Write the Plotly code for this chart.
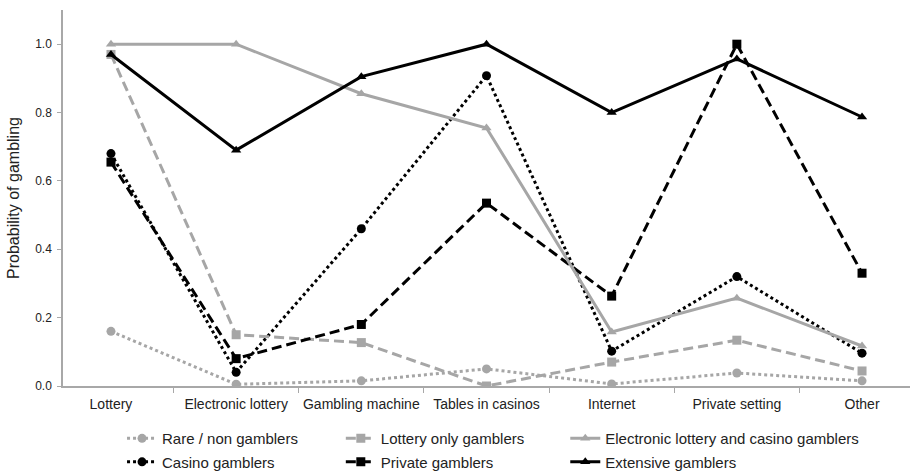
import plotly.graph_objects as go

categories = ["Lottery", "Electronic lottery", "Gambling machine", "Tables in casinos",
              "Internet", "Private setting", "Other"]

rare_non = [0.16, 0.005, 0.015, 0.05, 0.006, 0.038, 0.015]
lottery_only = [0.97, 0.15, 0.127, 0.0, 0.07, 0.134, 0.044]
elec_casino = [1.0, 1.0, 0.855, 0.755, 0.158, 0.257, 0.117]
casino = [0.68, 0.04, 0.46, 0.908, 0.102, 0.32, 0.096]
private = [0.655, 0.08, 0.18, 0.535, 0.263, 1.0, 0.33]
extensive = [0.97, 0.69, 0.905, 1.0, 0.80, 0.957, 0.787]

GRAY = "#a6a6a6"
BLACK = "#000000"
DASH = "10px,5px"

series = [
    ("Rare / non gamblers", rare_non, GRAY, "dot", "circle", "legend"),
    ("Casino gamblers", casino, BLACK, "dot", "circle", "legend"),
    ("Lottery only gamblers", lottery_only, GRAY, DASH, "square", "legend2"),
    ("Private gamblers", private, BLACK, DASH, "square", "legend2"),
    ("Electronic lottery and casino gamblers", elec_casino, GRAY, "solid", "triangle-up", "legend3"),
    ("Extensive gamblers", extensive, BLACK, "solid", "triangle-up", "legend3"),
]

fig = go.Figure()
for i, (name, vals, col, dash, sym, leg) in enumerate(series):
    fig.add_trace(go.Scatter(
        x=categories, y=vals, name=name, mode="lines+markers",
        line=dict(color=col, width=3, dash=dash),
        marker=dict(color=col, symbol=sym, size=9),
        legend=leg, legendgroup="g%d" % i,
    ))

FAM = "Liberation Sans, Arial, sans-serif"
legbase = dict(orientation="v", yanchor="top", xanchor="left",
               bgcolor="rgba(0,0,0,0)", font=dict(size=15, family=FAM, color="#222222"),
               itemwidth=30, tracegroupgap=1)

fig.update_layout(
    width=912, height=474,
    margin=dict(l=63, r=2, t=10, b=88, autoexpand=False),
    plot_bgcolor="white", paper_bgcolor="white",
    font=dict(size=12, family=FAM, color="#222222"),
    legend=dict(x=0.0697, y=-0.096, **legbase),
    legend2=dict(x=0.328, y=-0.096, **legbase),
    legend3=dict(x=0.593, y=-0.096, **legbase),
    xaxis=dict(
        type="category", showline=True, linecolor="#a8a8a8", linewidth=1.5,
        ticks="outside", tickson="boundaries", ticklen=5, tickcolor="#a8a8a8",
        showgrid=False, tickfont=dict(size=14, color="#222222"), ticklabelstandoff=4,
        tickangle=0,
    ),
    yaxis=dict(
        range=[0, 1.1], tickvals=[0, 0.2, 0.4, 0.6, 0.8, 1.0], tickformat=".1f",
        showline=True, linecolor="#a8a8a8", linewidth=1.5, ticks="outside", ticklen=4,
        tickcolor="#a8a8a8", showgrid=False, zeroline=False,
        tickfont=dict(size=12, color="#222222"), ticklabelstandoff=3,
        title=dict(text="Probability of gambling", font=dict(size=16, color="#222222"), standoff=12),
    ),
)

fig.write_html("out.html")
